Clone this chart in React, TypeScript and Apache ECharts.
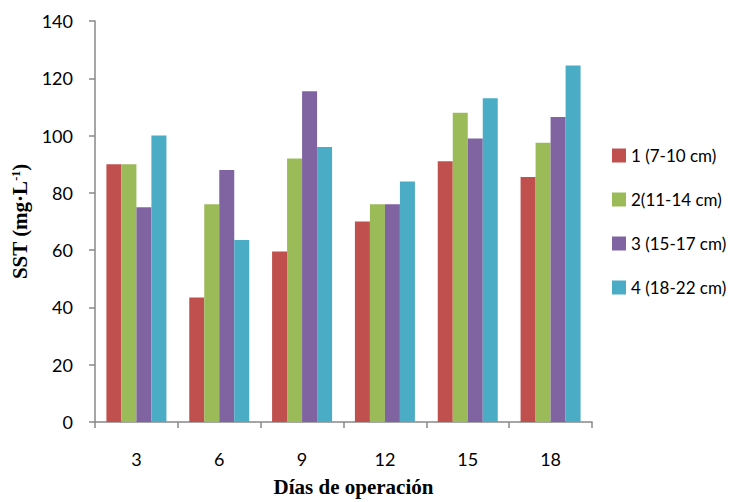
import React, { useEffect, useRef } from "react";
import * as echarts from "echarts";

const categories = ["3", "6", "9", "12", "15", "18"];
const seriesNames = ["1 (7-10 cm)", "2(11-14 cm)", "3 (15-17 cm)", "4 (18-22 cm)"];
const s1 = [90, 43.5, 59.5, 70, 91, 85.5];
const s2 = [90, 76, 92, 76, 108, 97.5];
const s3 = [75, 88, 115.5, 76, 99, 106.5];
const s4 = [100, 63.5, 96, 84, 113, 124.5];
const colors = ["#C0504D", "#9BBB59", "#8064A2", "#4BACC6"];

const sans = "Lato, 'Open Sans', sans-serif";
const serif = "'Liberation Serif', 'DejaVu Serif', serif";

export default function App() {
  const ref = useRef<HTMLDivElement>(null);
  useEffect(() => {
    if (!ref.current) return;
    const chart = echarts.init(ref.current, undefined, { renderer: "svg" });
    const data = [s1, s2, s3, s4];
    chart.setOption({
      animation: false,
      backgroundColor: "#ffffff",
      grid: { left: 95, right: 145, top: 21, bottom: 76, containLabel: false },
      legend: {
        orient: "vertical",
        left: 607,
        top: 142,
        itemWidth: 14,
        itemHeight: 14,
        itemGap: 27,
        icon: "rect",
        data: seriesNames,
        textStyle: { fontFamily: sans, fontSize: 17, color: "#000" },
      },
      xAxis: {
        type: "category",
        data: categories,
        axisLine: { lineStyle: { color: "#888", width: 1.5 } },
        axisTick: { show: true, length: 6, alignWithLabel: false, lineStyle: { color: "#888", width: 1.5 } },
        axisLabel: { fontFamily: sans, fontSize: 18, color: "#000", margin: 28 },
        name: "Días de operación",
        nameLocation: "middle",
        nameGap: 54,
        nameTextStyle: { fontFamily: serif, fontWeight: "bold", fontSize: 21, color: "#000", padding: [0, 0, 0, 20] },
      },
      yAxis: {
        type: "value",
        min: 0,
        max: 140,
        interval: 20,
        splitLine: { show: false },
        axisLine: { show: true, lineStyle: { color: "#888", width: 1.5 } },
        axisTick: { show: true, length: 6, lineStyle: { color: "#888", width: 1.5 } },
        axisLabel: { fontFamily: sans, fontSize: 18, color: "#000", margin: 22 },
        name: "SST (mg·L{sup|-1})",
        nameLocation: "middle",
        nameGap: 62,
        nameTextStyle: {
          fontFamily: serif,
          fontWeight: "bold",
          fontSize: 21,
          color: "#000",
          rich: {
            sup: { fontFamily: serif, fontWeight: "bold", fontSize: 12, color: "#000", padding: [0, 0, 8, 0] },
          },
        },
      },
      series: data.map((d, i) => ({
        name: seriesNames[i],
        type: "bar",
        data: d,
        barWidth: 15,
        barGap: "0%",
        itemStyle: { color: colors[i] },
      })),
    });
    return () => chart.dispose();
  }, []);
  return <div ref={ref} style={{ width: 737, height: 502, position: "absolute", left: 0, top: 0 }} />;
}
